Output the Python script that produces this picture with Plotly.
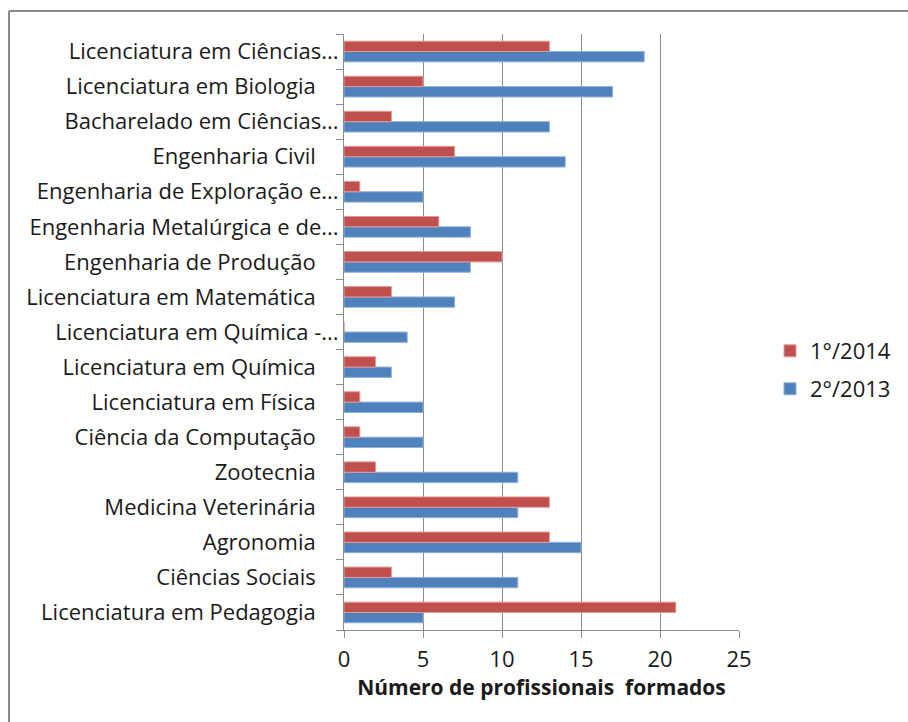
import plotly.graph_objects as go

# Categories listed bottom -> top
categories = [
    "Licenciatura em Pedagogia",
    "Ciências Sociais",
    "Agronomia",
    "Medicina Veterinária",
    "Zootecnia",
    "Ciência da Computação",
    "Licenciatura em Física",
    "Licenciatura em Química",
    "Licenciatura em Química -...",
    "Licenciatura em Matemática",
    "Engenharia de Produção",
    "Engenharia Metalúrgica e de...",
    "Engenharia de Exploração e...",
    "Engenharia Civil",
    "Bacharelado em Ciências...",
    "Licenciatura em Biologia",
    "Licenciatura em Ciências...",
]
series_2013 = [5, 11, 15, 11, 11, 5, 5, 3, 4, 7, 8, 8, 5, 14, 13, 17, 19]
series_2014 = [21, 3, 13, 13, 2, 1, 1, 2, 0, 3, 10, 6, 1, 7, 3, 5, 13]
name_2013 = "2°/2013"
name_2014 = "1°/2014"
x_ticks = [0, 5, 10, 15, 20, 25]
x_title = "Número de profissionais  formados"

# visual padding for labels that are not truncated (as in the reference)
display_labels = [c if c.endswith("...") else c + "\u00a0\u00a0\u00a0\u00a0" for c in categories]

FONT = "Open Sans"
fig = go.Figure()
fig.add_trace(go.Bar(
    y=display_labels, x=series_2013, name=name_2013, orientation="h", legend="legend2",
    marker=dict(color="#4F81BD", line=dict(color="#8FB0DA", width=1)),
))
fig.add_trace(go.Bar(
    y=display_labels, x=series_2014, name=name_2014, orientation="h", legend="legend",
    marker=dict(color="#C0504D", line=dict(color="#E39A98", width=1)),
))

L, R, T, B = 344, 739, 34, 630
W, H = 908, 722
pw, ph = R - L, B - T

def px(x):
    return (x - L) / pw

def py(y):
    return (B - y) / ph

leg_common = dict(xanchor="left", yanchor="middle", font=dict(size=22),
                  bgcolor="rgba(0,0,0,0)")

fig.update_layout(
    width=W, height=H,
    margin=dict(l=L, r=W - R, t=T, b=H - B, autoexpand=False),
    paper_bgcolor="white", plot_bgcolor="white",
    barmode="group", bargap=0.41, bargroupgap=0,
    font=dict(family=FONT, size=22, color="#1a1a1a"),
    showlegend=True,
    legend=dict(x=px(770), y=py(351), **leg_common),
    legend2=dict(x=px(770), y=py(389), **leg_common),
    xaxis=dict(
        range=[0, 25], tickvals=x_ticks, showgrid=True, gridcolor="#8C8C8C", gridwidth=1,
        showline=True, linecolor="#8C8C8C", linewidth=1, zeroline=False,
        ticks="outside", ticklen=7, tickcolor="#8C8C8C", ticklabelstandoff=3,
        tickfont=dict(size=22), fixedrange=True,
        title=dict(text="<b>" + x_title + "</b>", font=dict(size=21), standoff=6),
    ),
    yaxis=dict(
        type="category", categoryorder="array", categoryarray=display_labels,
        showline=True, linecolor="#8C8C8C", linewidth=1,
        ticks="outside", ticklen=7, tickcolor="#8C8C8C", tickson="boundaries",
        showgrid=False, tickfont=dict(size=22), fixedrange=True,
    ),
    shapes=[
        dict(type="line", xref="paper", yref="paper", x0=px(9), x1=px(912), y0=py(11), y1=py(11),
             line=dict(color="#8A8A8A", width=2)),
        dict(type="line", xref="paper", yref="paper", x0=px(9), x1=px(9), y0=py(11), y1=py(730),
             line=dict(color="#8A8A8A", width=2)),
    ],
)

fig.write_html(
    "out.html",
    config={"displayModeBar": False},
    post_script=(
        "document.documentElement.style.overflow='hidden';"
        "document.body.style.overflow='hidden';"
        "document.body.style.margin='0';"
    ),
)
